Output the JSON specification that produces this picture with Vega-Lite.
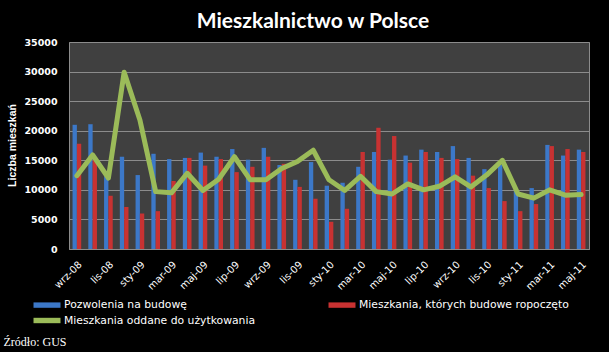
{
  "$schema": "https://vega.github.io/schema/vega-lite/v6.json",
  "autosize": {"type": "none"},
  "width": 520,
  "height": 207,
  "padding": {"left": 69, "top": 42, "right": 20, "bottom": 103},
  "background": "#000000",
  "title": {
    "text": "Mieszkalnictwo w Polsce",
    "color": "#ffffff",
    "font": "Lato",
    "fontSize": 21,
    "fontWeight": "bold",
    "anchor": "middle",
    "frame": "group",
    "dx": -16,
    "dy": 27,
    "baseline": "alphabetic",
    "offset": 15
  },
  "config": {
    "view": {"fill": "#404040", "stroke": "#8c8c8c", "strokeWidth": 1},
    "axis": {"labelColor": "#ffffff", "titleColor": "#ffffff"}
  },
  "data": {
    "values": [
      {"m": "wrz-08", "s": "Pozwolenia na budowę", "v": 21000},
      {"m": "paź-08", "s": "Pozwolenia na budowę", "v": 21100},
      {"m": "lis-08", "s": "Pozwolenia na budowę", "v": 12300},
      {"m": "gru-08", "s": "Pozwolenia na budowę", "v": 15600},
      {"m": "sty-09", "s": "Pozwolenia na budowę", "v": 12500},
      {"m": "lut-09", "s": "Pozwolenia na budowę", "v": 16100},
      {"m": "mar-09", "s": "Pozwolenia na budowę", "v": 15200},
      {"m": "kwi-09", "s": "Pozwolenia na budowę", "v": 15400},
      {"m": "maj-09", "s": "Pozwolenia na budowę", "v": 16300},
      {"m": "cze-09", "s": "Pozwolenia na budowę", "v": 15600},
      {"m": "lip-09", "s": "Pozwolenia na budowę", "v": 16900},
      {"m": "sie-09", "s": "Pozwolenia na budowę", "v": 15100},
      {"m": "wrz-09", "s": "Pozwolenia na budowę", "v": 17100},
      {"m": "paź-09", "s": "Pozwolenia na budowę", "v": 14200},
      {"m": "lis-09", "s": "Pozwolenia na budowę", "v": 11700},
      {"m": "gru-09", "s": "Pozwolenia na budowę", "v": 14700},
      {"m": "sty-10", "s": "Pozwolenia na budowę", "v": 10700},
      {"m": "lut-10", "s": "Pozwolenia na budowę", "v": 11200},
      {"m": "mar-10", "s": "Pozwolenia na budowę", "v": 13900},
      {"m": "kwi-10", "s": "Pozwolenia na budowę", "v": 16400},
      {"m": "maj-10", "s": "Pozwolenia na budowę", "v": 15100},
      {"m": "cze-10", "s": "Pozwolenia na budowę", "v": 15800},
      {"m": "lip-10", "s": "Pozwolenia na budowę", "v": 16800},
      {"m": "sie-10", "s": "Pozwolenia na budowę", "v": 16400},
      {"m": "wrz-10", "s": "Pozwolenia na budowę", "v": 17400},
      {"m": "paź-10", "s": "Pozwolenia na budowę", "v": 15400},
      {"m": "lis-10", "s": "Pozwolenia na budowę", "v": 13500},
      {"m": "gru-10", "s": "Pozwolenia na budowę", "v": 14200},
      {"m": "sty-11", "s": "Pozwolenia na budowę", "v": 9800},
      {"m": "lut-11", "s": "Pozwolenia na budowę", "v": 10300},
      {"m": "mar-11", "s": "Pozwolenia na budowę", "v": 17600},
      {"m": "kwi-11", "s": "Pozwolenia na budowę", "v": 15800},
      {"m": "maj-11", "s": "Pozwolenia na budowę", "v": 16800},
      {"m": "wrz-08", "s": "Mieszkania, których budowe ropoczęto", "v": 17800},
      {"m": "paź-08", "s": "Mieszkania, których budowe ropoczęto", "v": 15100},
      {"m": "lis-08", "s": "Mieszkania, których budowe ropoczęto", "v": 9000},
      {"m": "gru-08", "s": "Mieszkania, których budowe ropoczęto", "v": 7100},
      {"m": "sty-09", "s": "Mieszkania, których budowe ropoczęto", "v": 6000},
      {"m": "lut-09", "s": "Mieszkania, których budowe ropoczęto", "v": 6400},
      {"m": "mar-09", "s": "Mieszkania, których budowe ropoczęto", "v": 11500},
      {"m": "kwi-09", "s": "Mieszkania, których budowe ropoczęto", "v": 15400},
      {"m": "maj-09", "s": "Mieszkania, których budowe ropoczęto", "v": 14100},
      {"m": "cze-09", "s": "Mieszkania, których budowe ropoczęto", "v": 15200},
      {"m": "lip-09", "s": "Mieszkania, których budowe ropoczęto", "v": 13000},
      {"m": "sie-09", "s": "Mieszkania, których budowe ropoczęto", "v": 13900},
      {"m": "wrz-09", "s": "Mieszkania, których budowe ropoczęto", "v": 15600},
      {"m": "paź-09", "s": "Mieszkania, których budowe ropoczęto", "v": 14400},
      {"m": "lis-09", "s": "Mieszkania, których budowe ropoczęto", "v": 10500},
      {"m": "gru-09", "s": "Mieszkania, których budowe ropoczęto", "v": 8500},
      {"m": "sty-10", "s": "Mieszkania, których budowe ropoczęto", "v": 4600},
      {"m": "lut-10", "s": "Mieszkania, których budowe ropoczęto", "v": 6800},
      {"m": "mar-10", "s": "Mieszkania, których budowe ropoczęto", "v": 16400},
      {"m": "kwi-10", "s": "Mieszkania, których budowe ropoczęto", "v": 20500},
      {"m": "maj-10", "s": "Mieszkania, których budowe ropoczęto", "v": 19100},
      {"m": "cze-10", "s": "Mieszkania, których budowe ropoczęto", "v": 14600},
      {"m": "lip-10", "s": "Mieszkania, których budowe ropoczęto", "v": 16400},
      {"m": "sie-10", "s": "Mieszkania, których budowe ropoczęto", "v": 15400},
      {"m": "wrz-10", "s": "Mieszkania, których budowe ropoczęto", "v": 15200},
      {"m": "paź-10", "s": "Mieszkania, których budowe ropoczęto", "v": 12400},
      {"m": "lis-10", "s": "Mieszkania, których budowe ropoczęto", "v": 10300},
      {"m": "gru-10", "s": "Mieszkania, których budowe ropoczęto", "v": 8100},
      {"m": "sty-11", "s": "Mieszkania, których budowe ropoczęto", "v": 6400},
      {"m": "lut-11", "s": "Mieszkania, których budowe ropoczęto", "v": 7600},
      {"m": "mar-11", "s": "Mieszkania, których budowe ropoczęto", "v": 17400},
      {"m": "kwi-11", "s": "Mieszkania, których budowe ropoczęto", "v": 16900},
      {"m": "maj-11", "s": "Mieszkania, których budowe ropoczęto", "v": 16400},
      {"m": "wrz-08", "s": "Mieszkania oddane do użytkowania", "v": 12400},
      {"m": "paź-08", "s": "Mieszkania oddane do użytkowania", "v": 15900},
      {"m": "lis-08", "s": "Mieszkania oddane do użytkowania", "v": 12000},
      {"m": "gru-08", "s": "Mieszkania oddane do użytkowania", "v": 29900},
      {"m": "sty-09", "s": "Mieszkania oddane do użytkowania", "v": 21800},
      {"m": "lut-09", "s": "Mieszkania oddane do użytkowania", "v": 9700},
      {"m": "mar-09", "s": "Mieszkania oddane do użytkowania", "v": 9500},
      {"m": "kwi-09", "s": "Mieszkania oddane do użytkowania", "v": 12800},
      {"m": "maj-09", "s": "Mieszkania oddane do użytkowania", "v": 9900},
      {"m": "cze-09", "s": "Mieszkania oddane do użytkowania", "v": 11800},
      {"m": "lip-09", "s": "Mieszkania oddane do użytkowania", "v": 15600},
      {"m": "sie-09", "s": "Mieszkania oddane do użytkowania", "v": 11700},
      {"m": "wrz-09", "s": "Mieszkania oddane do użytkowania", "v": 11700},
      {"m": "paź-09", "s": "Mieszkania oddane do użytkowania", "v": 13600},
      {"m": "lis-09", "s": "Mieszkania oddane do użytkowania", "v": 14800},
      {"m": "gru-09", "s": "Mieszkania oddane do użytkowania", "v": 16700},
      {"m": "sty-10", "s": "Mieszkania oddane do użytkowania", "v": 11700},
      {"m": "lut-10", "s": "Mieszkania oddane do użytkowania", "v": 9900},
      {"m": "mar-10", "s": "Mieszkania oddane do użytkowania", "v": 12300},
      {"m": "kwi-10", "s": "Mieszkania oddane do użytkowania", "v": 9700},
      {"m": "maj-10", "s": "Mieszkania oddane do użytkowania", "v": 9300},
      {"m": "cze-10", "s": "Mieszkania oddane do użytkowania", "v": 11000},
      {"m": "lip-10", "s": "Mieszkania oddane do użytkowania", "v": 10000},
      {"m": "sie-10", "s": "Mieszkania oddane do użytkowania", "v": 10600},
      {"m": "wrz-10", "s": "Mieszkania oddane do użytkowania", "v": 12200},
      {"m": "paź-10", "s": "Mieszkania oddane do użytkowania", "v": 10500},
      {"m": "lis-10", "s": "Mieszkania oddane do użytkowania", "v": 12500},
      {"m": "gru-10", "s": "Mieszkania oddane do użytkowania", "v": 15000},
      {"m": "sty-11", "s": "Mieszkania oddane do użytkowania", "v": 9300},
      {"m": "lut-11", "s": "Mieszkania oddane do użytkowania", "v": 8600},
      {"m": "mar-11", "s": "Mieszkania oddane do użytkowania", "v": 10000},
      {"m": "kwi-11", "s": "Mieszkania oddane do użytkowania", "v": 9100},
      {"m": "maj-11", "s": "Mieszkania oddane do użytkowania", "v": 9200}
    ]
  },
  "encoding": {
    "x": {
      "field": "m",
      "type": "ordinal",
      "sort": null,
      "scale": {"paddingInner": 0.45, "paddingOuter": 0.225},
      "axis": {
        "values": ["wrz-08", "lis-08", "sty-09", "mar-09", "maj-09", "lip-09", "wrz-09", "lis-09", "sty-10", "mar-10", "maj-10", "lip-10", "wrz-10", "lis-10", "sty-11", "mar-11", "maj-11"],
        "labelAngle": -45,
        "labelFont": "DejaVu Sans",
        "labelFontSize": 10,
        "labelPadding": 10,
        "ticks": false,
        "domain": true,
        "domainColor": "#8c8c8c",
        "title": "Źródło: GUS",
        "titleFont": "Liberation Serif",
        "titleFontSize": 12,
        "titleFontWeight": "normal",
        "titleAlign": "left",
        "titleAnchor": "start",
        "titleBaseline": "middle",
        "titleX": -66,
        "titleY": 92
      }
    },
    "y": {
      "field": "v",
      "type": "quantitative",
      "scale": {"domain": [0, 35000], "nice": false},
      "axis": {
        "values": [0, 5000, 10000, 15000, 20000, 25000, 30000, 35000],
        "format": "d",
        "labelFont": "DejaVu Sans",
        "labelFontSize": 9.5,
        "labelFontWeight": "bold",
        "labelPadding": 12,
        "ticks": false,
        "domain": false,
        "gridColor": "#8c8c8c",
        "gridWidth": 1,
        "title": "Liczba mieszkań",
        "titleFont": "Liberation Sans Narrow, Liberation Sans",
        "titleFontSize": 10.5,
        "titleFontWeight": "bold",
        "titleAngle": -90,
        "titleAlign": "center",
        "titleBaseline": "middle",
        "titleX": -57,
        "titleY": 103
      }
    },
    "color": {
      "field": "s",
      "type": "nominal",
      "scale": {
        "domain": ["Pozwolenia na budowę", "Mieszkania, których budowe ropoczęto", "Mieszkania oddane do użytkowania"],
        "range": ["#3c78c8", "#c83232", "#9bbb59"]
      },
      "legend": {
        "orient": "none",
        "direction": "horizontal",
        "legendX": -29,
        "legendY": 256,
        "columns": 2,
        "columnPadding": 72,
        "rowPadding": 3.5,
        "title": null,
        "labelColor": "#ffffff",
        "labelFont": "DejaVu Sans",
        "labelFontSize": 10.8,
        "labelLimit": 320,
        "labelOffset": 10,
        "symbolType": "M-2,-0.4H2V0.4H-2Z",
        "symbolSize": 182,
        "symbolStrokeWidth": 0,
        "symbolOpacity": 1
      }
    }
  },
  "layer": [
    {
      "transform": [{"filter": "datum.s !== 'Mieszkania oddane do użytkowania'"}],
      "mark": {"type": "bar"},
      "encoding": {
        "xOffset": {
          "field": "s",
          "type": "nominal",
          "scale": {"domain": ["Pozwolenia na budowę", "Mieszkania, których budowe ropoczęto"], "paddingInner": 0, "paddingOuter": 0}
        }
      }
    },
    {
      "transform": [{"filter": "datum.s === 'Mieszkania oddane do użytkowania'"}],
      "mark": {"type": "line", "strokeWidth": 5, "strokeJoin": "round", "strokeCap": "round"},
      "encoding": {}
    }
  ]
}
